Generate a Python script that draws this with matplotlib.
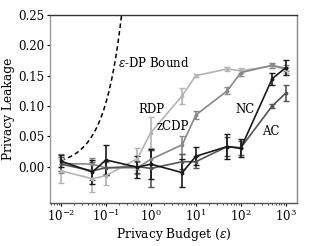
import numpy as np
import matplotlib
matplotlib.use("Agg")
import matplotlib.pyplot as plt

plt.rcParams['font.family'] = ['DejaVu Serif']
plt.rcParams['mathtext.fontset'] = 'dejavuserif'

eps = [0.01, 0.05, 0.1, 0.5, 1, 5, 10, 50, 100, 500, 1000]

rdp = [-0.007, -0.02, -0.015, 0.013, 0.056, 0.117, 0.150, 0.161, 0.158, 0.166, 0.160]
rdp_err = [0.02, 0.022, 0.015, 0.018, 0.025, 0.013, 0.003, 0.004, 0.004, 0.004, 0.005]

zcdp = [0.005, 0.004, -0.002, -0.002, 0.012, 0.036, 0.085, 0.125, 0.155, 0.167, 0.162]
zcdp_err = [0.015, 0.01, 0.01, 0.01, 0.015, 0.015, 0.006, 0.006, 0.005, 0.004, 0.005]

nc = [0.009, -0.009, 0.011, -0.001, 0.004, -0.010, 0.017, 0.033, 0.030, 0.145, 0.163]
nc_err = [0.01, 0.02, 0.025, 0.018, 0.025, 0.023, 0.015, 0.02, 0.015, 0.01, 0.012]

ac = [0.004, -0.007, -0.002, 0.000, -0.003, 0.008, 0.008, 0.033, 0.031, 0.100, 0.121]
ac_err = [0.012, 0.015, 0.012, 0.01, 0.03, 0.012, 0.01, 0.015, 0.012, 0.004, 0.013]

series = [
    ("RDP", rdp, rdp_err, "#b4b4b4"),
    ("zCDP", zcdp, zcdp_err, "#888888"),
    ("AC", ac, ac_err, "#555555"),
    ("NC", nc, nc_err, "#1a1a1a"),
]

labels = [
    ("$\\epsilon$-DP Bound", 0.185, 0.171),
    ("RDP", 0.52, 0.094),
    ("zCDP", 1.37, 0.066),
    ("NC", 75, 0.094),
    ("AC", 300, 0.058),
]

fig = plt.figure(figsize=(3.10, 2.46), dpi=100)
ax = fig.add_axes([0.161, 0.175, 0.797, 0.764])

bound_eps = np.logspace(-2, np.log10(0.3), 200)
ax.plot(bound_eps, np.expm1(bound_eps), color='black', linestyle='--', lw=1.1, dashes=(3, 2))

for name, vals, errs, col in series:
    ax.errorbar(eps, vals, yerr=errs, color=col, lw=1.2, marker='.', markersize=3.5,
                capsize=2.0, elinewidth=1.2, capthick=1.0)

for txt, x, y in labels:
    ax.text(x, y, txt, fontsize=8.5, va='center', ha='left')

ax.set_xscale('log')
ax.set_xlim(10 ** -2.245, 10 ** 3.25)
ax.set_ylim(-0.06, 0.25)
ax.set_yticks([0.0, 0.05, 0.10, 0.15, 0.20, 0.25])
ax.set_yticklabels(["0.00", "0.05", "0.10", "0.15", "0.20", "0.25"])
ax.set_xticks([1e-2, 1e-1, 1, 10, 100, 1000])
ax.tick_params(axis='both', labelsize=8.5, length=2, width=0.8, pad=2)
ax.tick_params(axis='x', which='minor', length=1.2, width=0.5)
ax.set_xlabel("Privacy Budget ($\\epsilon$)", fontsize=8.8, labelpad=1)
ax.set_ylabel("Privacy Leakage", fontsize=8.8, labelpad=2)

ax.spines['left'].set_color('#999999')
ax.spines['right'].set_color('#888888')
ax.spines['top'].set_color('#333333')
ax.spines['bottom'].set_color('#555555')
for s in ax.spines.values():
    s.set_linewidth(1.0)

fig.savefig("out.png", dpi=100)
